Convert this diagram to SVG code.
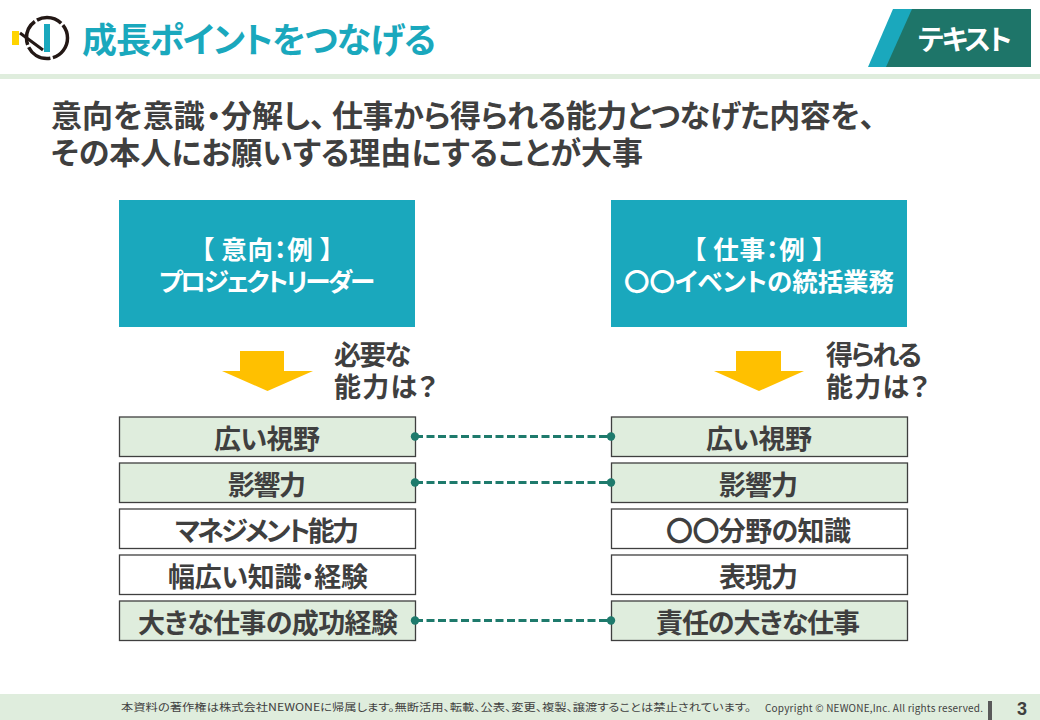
<svg xmlns="http://www.w3.org/2000/svg" width="1040" height="720" viewBox="0 0 1040 720">
<style>
text{font-family:"Noto Sans CJK JP","Liberation Sans",sans-serif;font-weight:700;fill:#3f3f3f;text-anchor:start;font-feature-settings:"palt"}
.h{fill:#fff;font-size:25.500px}
.b{font-size:27px}
.q{font-size:27px}
.m{font-size:31px}
.g{fill:#dfeddd;stroke:#3f3f3f;stroke-width:1.3}
.w{fill:#fff;stroke:#3f3f3f;stroke-width:1.3}
.c{stroke:#1e7a6c;stroke-width:3;stroke-dasharray:8 3.500;fill:none}
.d{fill:#1e7a6c}
.a{fill:#ffc000}
.t{fill:#1aa8bd}
</style>
<rect width="1040" height="720" fill="#fff"/>
<g id="header">
<rect x="0" y="74" width="1040" height="5" fill="#dfeddd"/>
<rect x="12" y="31" width="7" height="14" fill="#ffd400"/>
<circle cx="47" cy="38" r="20.500" fill="none" stroke="#231815" stroke-width="3.500" stroke-dasharray="26 2.500"/>
<rect x="44" y="24" width="6" height="28" class="t"/>
<path d="M20 33L43 50" stroke="#231815" stroke-width="3" fill="none"/>
<text x="82" y="53" style="font-size:35px;fill:#1aa8bd" textLength="354">成長ポイントをつなげる</text>
<polygon points="893,9 1031,9 1031,67 868,67" class="t"/>
<polygon points="912,9 1031,9 1031,67 886,67" fill="#1e7569"/>
<text x="918" y="50" style="font-size:28px;fill:#fff" textLength="94">テキスト</text>
</g>
<g id="lead">
<text class="m" x="51" y="127">意向を意識</text>
<text class="m" x="206" y="127">・</text>
<text class="m" x="221" y="127">分解し、</text>
<text class="m" x="332" y="127" textLength="543">仕事から得られる能力とつなげた内容を、</text>
<text class="m" x="51" y="164" textLength="592">その本人にお願いする理由にすることが大事</text>
</g>
<g id="head-left"><rect x="119" y="200" width="296" height="127" class="t"/><text x="201" y="259" class="h" textLength="132">【 意向：例 】</text><text x="159" y="291" class="h" textLength="216">プロジェクトリーダー</text></g>
<g id="head-right"><rect x="611" y="200" width="296" height="127" class="t"/><text x="693" y="259" class="h" textLength="132">【 仕事：例 】</text><text x="624" y="291" class="h" textLength="270">〇〇イベントの統括業務</text></g>
<g id="arrow-left"><polygon class="a" points="240,351 284,351 284,371 313,371 267.500,391 222,371 240,371"/><text x="334" y="365" class="q" textLength="77">必要な</text><text x="334" y="397" class="q" textLength="103">能力は？</text></g>
<g id="arrow-right"><polygon class="a" points="736,351 781,351 781,371 804,371 759,391 714,371 736,371"/><text x="826" y="365" class="q" textLength="96">得られる</text><text x="826" y="397" class="q" textLength="103">能力は？</text></g>
<g id="l1"><rect x="119.500" y="417" width="296" height="39.500" class="g"/><text x="214" y="449" class="b" textLength="106">広い視野</text></g>
<g id="l2"><rect x="119.500" y="463" width="296" height="39.500" class="g"/><text x="228" y="495" class="b" textLength="78">影響力</text></g>
<g id="l3"><rect x="119.500" y="509" width="296" height="39.500" class="w"/><text x="175" y="541" class="b" textLength="184">マネジメント能力</text></g>
<g id="l4"><rect x="119.500" y="555" width="296" height="39.500" class="w"/><text x="168" y="587" class="b" textLength="200">幅広い知識・経験</text></g>
<g id="l5"><rect x="119.500" y="601" width="296" height="39.500" class="g"/><text x="138" y="633" class="b" textLength="260">大きな仕事の成功経験</text></g>
<g id="r1"><rect x="611.500" y="417" width="296" height="39.500" class="g"/><text x="706" y="449" class="b" textLength="106">広い視野</text></g>
<g id="r2"><rect x="611.500" y="463" width="296" height="39.500" class="g"/><text x="719" y="495" class="b" textLength="79">影響力</text></g>
<g id="r3"><rect x="611.500" y="509" width="296" height="39.500" class="w"/><text x="666" y="541" class="b" textLength="185">〇〇分野の知識</text></g>
<g id="r4"><rect x="611.500" y="555" width="296" height="39.500" class="w"/><text x="719" y="587" class="b" textLength="79">表現力</text></g>
<g id="r5"><rect x="611.500" y="601" width="296" height="39.500" class="g"/><text x="656" y="633" class="b" textLength="204">責任の大きな仕事</text></g>
<g id="connectors">
<path class="c" d="M415 436.500H611M415 482.500H611M415 620.500H611"/>
<circle class="d" cx="415" cy="436.500" r="4.200"/><circle class="d" cx="611" cy="436.500" r="4.200"/>
<circle class="d" cx="415" cy="482.500" r="4.200"/><circle class="d" cx="611" cy="482.500" r="4.200"/>
<circle class="d" cx="415" cy="620.500" r="4.200"/><circle class="d" cx="611" cy="620.500" r="4.200"/>
</g>
<g id="footer">
<rect x="0" y="694" width="1040" height="26" fill="#dfeddd"/>
<text x="121" y="711" style="font-size:10.500px;font-weight:400" textLength="630" lengthAdjust="spacingAndGlyphs">本資料の著作権は株式会社NEWONEに帰属します。無断活用、転載、公表、変更、複製、譲渡することは禁止されています。</text>
<text x="765" y="712" style="font-size:10px;font-weight:400" textLength="218" lengthAdjust="spacing">Copyright © NEWONE,Inc.  All rights reserved.</text>
<rect x="988" y="701" width="4" height="19" fill="#595959"/>
<text x="1017" y="715" style="font-size:18px;font-family:'Liberation Sans',sans-serif">3</text>
</g>
</svg>
